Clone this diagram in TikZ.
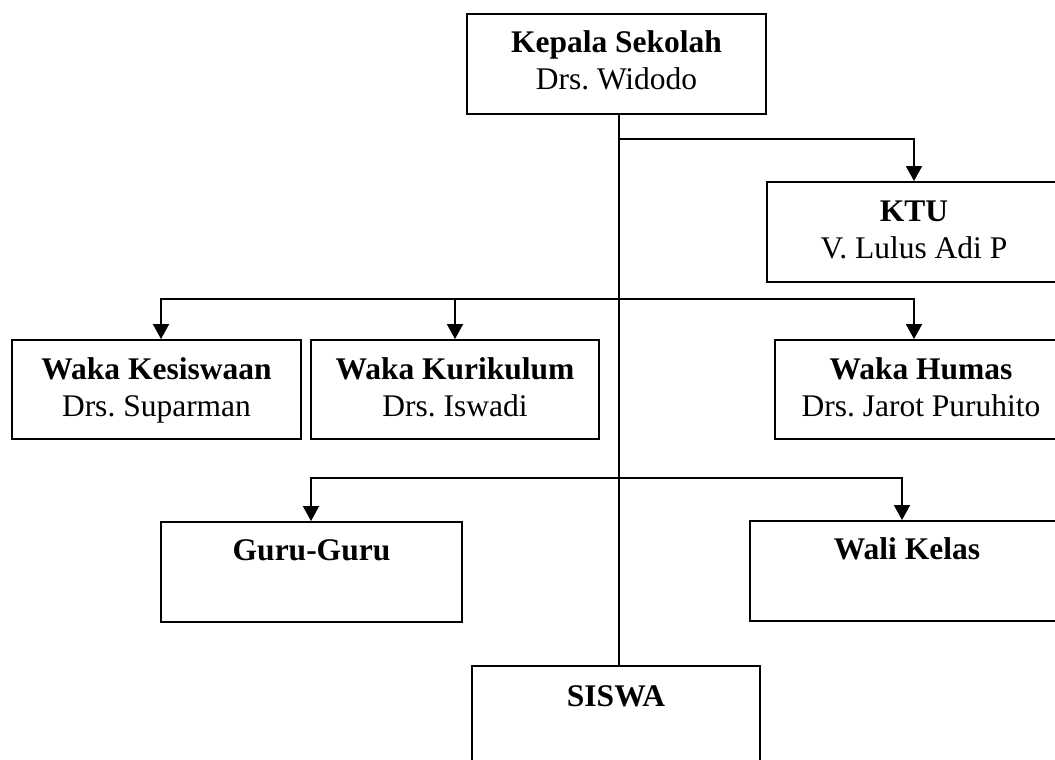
\documentclass[tikz,border=0pt]{standalone}
\usepackage{fontspec}
\setmainfont{Liberation Serif}
\usetikzlibrary{arrows.meta}
\frenchspacing
\begin{document}
\begin{tikzpicture}[x=1pt,y=-1pt,
  box/.style={draw, line width=1.9pt, inner sep=0pt},
  ttl/.style={font=\fontsize{31.5}{37}\selectfont\bfseries, inner sep=0pt, anchor=base},
  nm/.style={font=\fontsize{31.5}{37}\selectfont, inner sep=0pt, anchor=base},
  conn/.style={line width=1.9pt, line join=miter},
  arr/.style={conn, -{Triangle[width=16pt,length=15pt]}}]
\useasboundingbox (0,0) rectangle (1055,760);

% boxes
\node[box, minimum width=299pt, minimum height=100pt] (kep) at (616.5,64) {};
\node[box, minimum width=294pt, minimum height=100pt] (ktu) at (914,232) {};
\node[box, minimum width=289pt, minimum height=99pt] (kes) at (156.5,389.5) {};
\node[box, minimum width=288pt, minimum height=99pt] (kur) at (455,389.5) {};
\node[box, minimum width=292pt, minimum height=99pt] (hum) at (921,389.5) {};
\node[box, minimum width=301pt, minimum height=100pt] (guru) at (311.5,572) {};
\node[box, minimum width=314pt, minimum height=100pt] (wali) at (907,571) {};
\node[box, minimum width=288pt, minimum height=134pt] (siswa) at (616,733) {};

% texts
\node[ttl] (kepT) at ([yshift=-39pt]kep.north) {Kepala Sekolah};
\node[nm]  (kepN) at ([yshift=-76pt]kep.north) {Drs. Widodo};
\node[ttl] (ktuT) at ([yshift=-40pt]ktu.north) {KTU};
\node[nm]  (ktuN) at ([yshift=-77pt]ktu.north) {V. Lulus Adi P};
\node[ttl] (kesT) at ([yshift=-40pt]kes.north) {Waka Kesiswaan};
\node[nm]  (kesN) at ([yshift=-77pt]kes.north) {Drs. Suparman};
\node[ttl] (kurT) at ([yshift=-40pt]kur.north) {Waka Kurikulum};
\node[nm]  (kurN) at ([yshift=-77pt]kur.north) {Drs. Iswadi};
\node[ttl] (humT) at ([yshift=-40pt]hum.north) {Waka Humas};
\node[nm]  (humN) at ([yshift=-77pt]hum.north) {Drs. Jarot Puruhito};
\node[ttl] (guruT) at ([yshift=-39pt]guru.north) {Guru-Guru};
\node[ttl] (waliT) at ([yshift=-39pt]wali.north) {Wali Kelas};
\node[ttl] (siswaT) at ([yshift=-41pt]siswa.north) {SISWA};

% junction coordinates
\coordinate (j1) at (619,139);
\coordinate (j2) at (619,299);
\coordinate (j3) at (619,478);
\coordinate (b2l) at (161,299);
\coordinate (b2r) at (914,299);
\coordinate (b3l) at (311,478);
\coordinate (b3r) at (902,478);

% connectors
\draw[conn] (kep.south -| j1) -- (siswa.north -| j1);
\draw[arr] (j1) -| (ktu.north);
\draw[arr] (kur.north |- b2l) -- (b2l) -- (b2l |- kes.north);
\draw[arr] (kur.north |- b2l) -- (b2r) -- (b2r |- hum.north);
\draw[arr] (kur.north |- b2l) -- (kur.north);
\draw[arr] (j3) -- (b3l) -- (b3l |- guru.north);
\draw[arr] (j3) -- (b3r) -- (b3r |- wali.north);
\end{tikzpicture}
\end{document}
